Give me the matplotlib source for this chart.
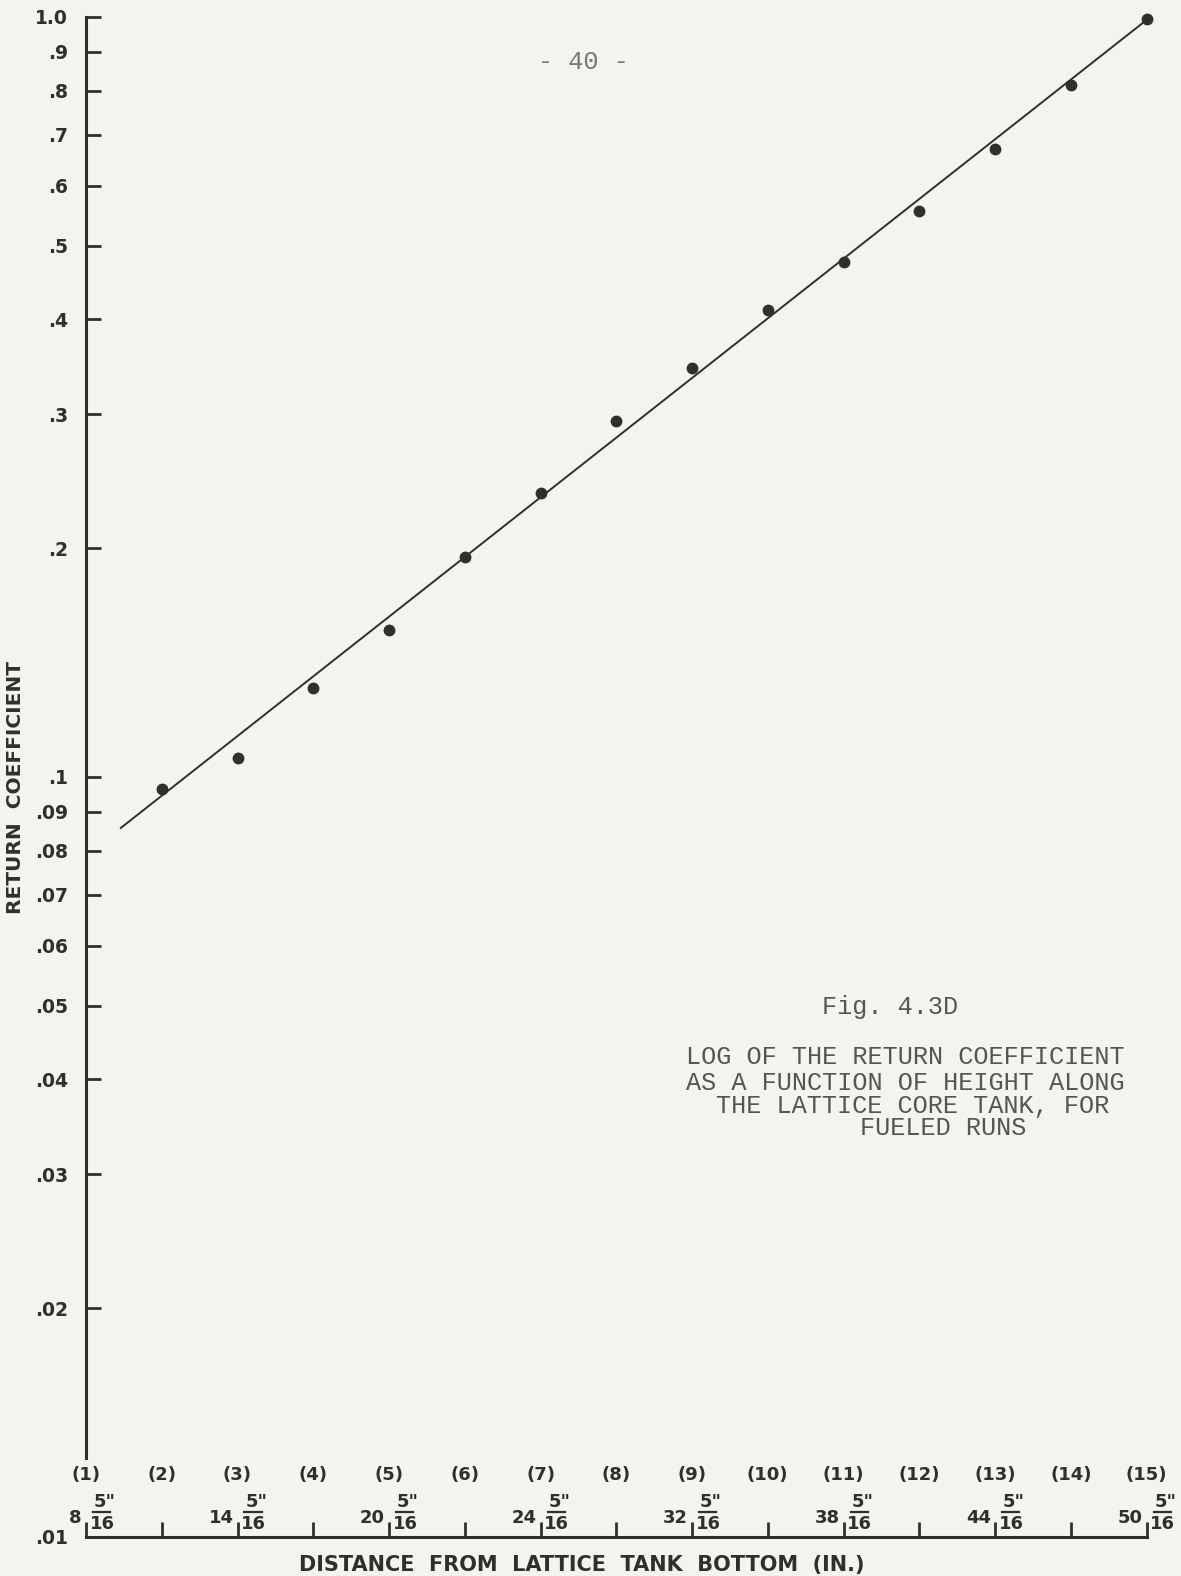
import matplotlib
matplotlib.use("Agg")
import matplotlib.pyplot as plt
import matplotlib.transforms as mtransforms
from matplotlib.ticker import NullLocator, NullFormatter

# measuring positions (1)..(15) along the tank
positions = list(range(1, 16))
pos_labels = ["(%d)" % i for i in positions]

# heights in inches shown under every other position
frac_pos = [1, 3, 5, 7, 9, 11, 13, 15]
frac_whole = ["8", "14", "20", "24", "32", "38", "44", "50"]

# measured return coefficient, fueled runs
point_x = [2, 3, 4, 5, 6, 7, 8, 9, 10, 11, 12, 13, 14, 15]
point_y = [0.0963, 0.106, 0.131, 0.156, 0.195, 0.2365, 0.294, 0.345,
           0.411, 0.476, 0.556, 0.671, 0.813, 0.995]

# hand drawn straight line
line_x = [1.46, 14.95]
line_y = [0.0857, 0.982]

ytick_vals = [1.0, 0.9, 0.8, 0.7, 0.6, 0.5, 0.4, 0.3, 0.2, 0.1,
              0.09, 0.08, 0.07, 0.06, 0.05, 0.04, 0.03, 0.02, 0.01]
ytick_labels = ["1.0", ".9", ".8", ".7", ".6", ".5", ".4", ".3", ".2", ".1",
                ".09", ".08", ".07", ".06", ".05", ".04", ".03", ".02", ".01"]

W, H = 1181, 1576
bg = "#f2f4ed"
ink = "#2f2f2f"
typed = "#555555"

fig = plt.figure(figsize=(W / 100, H / 100), dpi=100, facecolor=bg)
ax_l, ax_r, ax_t, ax_b = 86, 1146.5, 17, 1537
ax = fig.add_axes([ax_l / W, 1 - ax_b / H, (ax_r - ax_l) / W, (ax_b - ax_t) / H])
ax.set_facecolor("none")
ax.set_yscale("log")
ax.set_ylim(0.01, 1.0)
ax.set_xlim(1, 15)

ax.plot(line_x, line_y, color=ink, lw=1.4)
ax.plot(point_x, point_y, "o", ms=7.5, color=ink, clip_on=False)

for s in ["top", "right"]:
    ax.spines[s].set_visible(False)
ax.spines["left"].set_bounds(0.0127, 1.0)
ax.spines["bottom"].set_bounds(1, 15)
for s in ["left", "bottom"]:
    ax.spines[s].set_linewidth(2.2)
    ax.spines[s].set_color(ink)

ax.yaxis.set_minor_locator(NullLocator())
ax.yaxis.set_minor_formatter(NullFormatter())
ax.set_yticks(ytick_vals)
ax.set_yticklabels(ytick_labels)
ax.tick_params(axis="y", direction="in", length=11, width=2, colors=ink,
               labelsize=13.5, pad=13)
for t in ax.get_yticklabels():
    t.set_fontweight("bold")

ax.set_xticks(positions)
ax.set_xticklabels([""] * len(positions))
ax.tick_params(axis="x", direction="in", length=11, width=2, colors=ink)

xt = ax.get_xaxis_transform()
ppu = (ax_r - ax_l) / 14.0
tick_font = dict(fontsize=13, fontweight="bold", color=ink)

lab_tr = mtransforms.offset_copy(xt, fig=fig, y=62, units="dots")
for p, lab in zip(positions, pos_labels):
    ax.text(p, 0, lab, transform=lab_tr, ha="center", va="center", **tick_font)

whole_tr = mtransforms.offset_copy(xt, fig=fig, x=-4, y=19, units="dots")
num_tr = mtransforms.offset_copy(xt, fig=fig, x=19, y=35, units="dots")
den_tr = mtransforms.offset_copy(xt, fig=fig, x=16, y=13, units="dots")
bar_tr = mtransforms.offset_copy(xt, fig=fig, y=25.5, units="dots")
for p, w in zip(frac_pos, frac_whole):
    ax.text(p, 0, w, transform=whole_tr, ha="right", va="center", **tick_font)
    ax.text(p, 0, '5"', transform=num_tr, ha="center", va="center", **tick_font)
    ax.text(p, 0, "16", transform=den_tr, ha="center", va="center", **tick_font)
    ax.plot([p + 7 / ppu, p + 24 / ppu], [0, 0], transform=bar_tr,
            color=ink, lw=1.6, clip_on=False)

fig.text(16 / W, 1 - 788 / H, "RETURN  COEFFICIENT", rotation=90,
         ha="center", va="center", fontsize=14.5, fontweight="bold", color=ink)
fig.text(582 / W, 1 - 1565 / H, "DISTANCE  FROM  LATTICE  TANK  BOTTOM  (IN.)",
         ha="center", va="center", fontsize=15, fontweight="bold", color=ink)

mono = dict(family="Liberation Mono", fontsize=18.2, color=typed, va="center", ha="left")
fig.text(538 / W, 1 - 62 / H, "- 40 -", **dict(mono, color="#777777"))
fig.text(822 / W, 1 - 1007 / H, "Fig. 4.3D", **mono)
fig.text(686 / W, 1 - 1057 / H, "LOG OF THE RETURN COEFFICIENT", **mono)
fig.text(686 / W, 1 - 1083 / H, "AS A FUNCTION OF HEIGHT ALONG", **mono)
fig.text(716 / W, 1 - 1106 / H, "THE LATTICE CORE TANK, FOR", **mono)
fig.text(860 / W, 1 - 1128 / H, "FUELED RUNS", **mono)

fig.savefig("out.png", dpi=100, facecolor=bg)
